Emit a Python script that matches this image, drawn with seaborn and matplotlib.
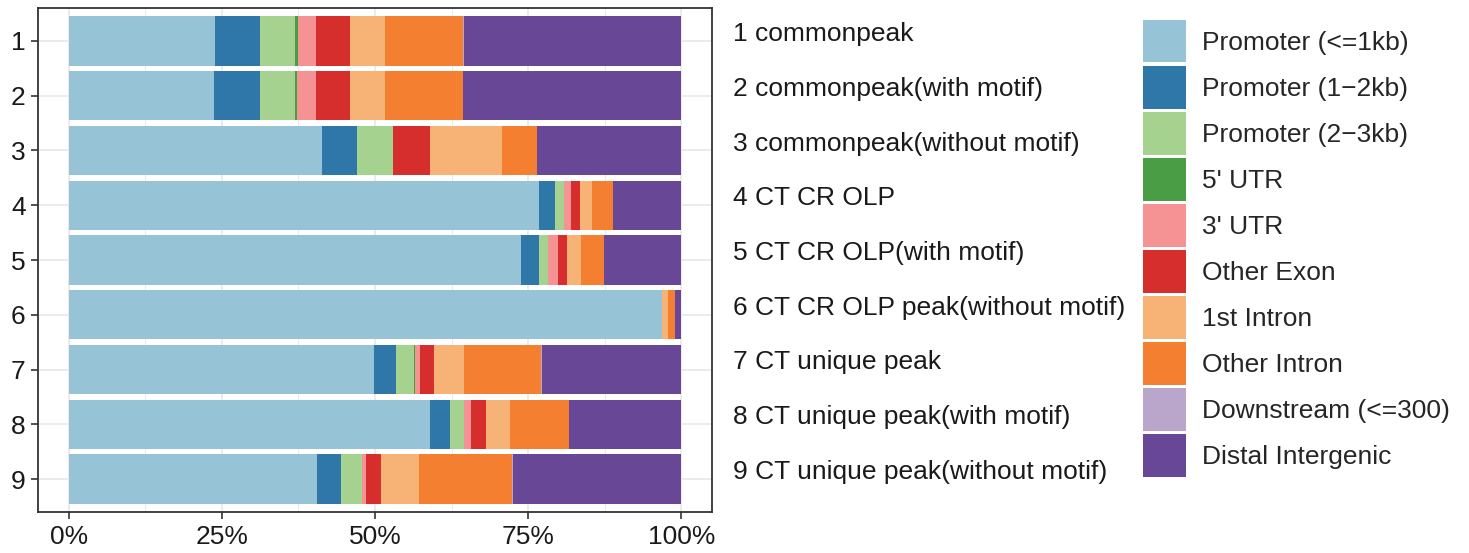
import numpy as np
import pandas as pd
import matplotlib.pyplot as plt
import seaborn as sns
from matplotlib.patches import Patch
from matplotlib.ticker import FixedLocator, PercentFormatter

# Sample ids and their descriptions
samples = ["1", "2", "3", "4", "5", "6", "7", "8", "9"]
sample_names = [
    "1 commonpeak",
    "2 commonpeak(with motif)",
    "3 commonpeak(without motif)",
    "4 CT CR OLP",
    "5 CT CR OLP(with motif)",
    "6 CT CR OLP peak(without motif)",
    "7 CT unique peak",
    "8 CT unique peak(with motif)",
    "9 CT unique peak(without motif)",
]

features = ["Promoter (<=1kb)", "Promoter (1\u22122kb)", "Promoter (2\u22123kb)", "5' UTR", "3' UTR",
            "Other Exon", "1st Intron", "Other Intron", "Downstream (<=300)", "Distal Intergenic"]
colors = ["#97C3D7", "#2E77A8", "#A5D38F", "#4A9C45", "#F59294",
          "#D62D2D", "#F7B276", "#F47F31", "#BAA5CB", "#684796"]

# percentage of peaks per feature, one list per feature (samples 1..9)
promoter_1kb = [23.9, 23.8, 41.3, 76.8, 73.8, 96.9, 49.9, 58.9, 40.6]
promoter_2kb = [7.4, 7.5, 5.8, 2.6, 3.0, 0.0, 3.5, 3.3, 3.8]
promoter_3kb = [5.7, 5.7, 5.9, 1.4, 1.5, 0.0, 2.9, 2.4, 3.4]
utr5 = [0.5, 0.3, 0.0, 0.0, 0.0, 0.0, 0.2, 0.0, 0.1]
utr3 = [2.9, 3.1, 0.0, 1.2, 1.5, 0.0, 0.8, 1.0, 0.7]
other_exon = [5.6, 5.6, 5.9, 1.4, 1.6, 0.0, 2.3, 2.5, 2.3]
first_intron = [5.7, 5.7, 11.8, 2.0, 2.2, 1.0, 5.0, 3.9, 6.2]
other_intron = [12.7, 12.7, 5.8, 3.4, 3.7, 1.1, 12.5, 9.6, 15.3]
downstream = [0.2, 0.0, 0.0, 0.0, 0.0, 0.0, 0.1, 0.0, 0.1]
distal = [35.4, 35.6, 23.5, 11.2, 12.7, 1.0, 22.8, 18.4, 27.5]

values = [promoter_1kb, promoter_2kb, promoter_3kb, utr5, utr3,
          other_exon, first_intron, other_intron, downstream, distal]

df = pd.DataFrame(np.array(values).T, columns=features)
df["sample"] = samples
# normalise each row to 100%
df[features] = df[features].div(df[features].sum(axis=1), axis=0) * 100
cum = df[features].cumsum(axis=1)
cum["sample"] = samples

sns.set_theme(style="whitegrid")
plt.rcParams["font.family"] = ["Liberation Sans", "DejaVu Sans"]

fig = plt.figure(figsize=(14.69, 5.53), dpi=100)
ax = fig.add_axes([38 / 1469, 1 - 512 / 553, (712 - 38) / 1469, (512 - 8) / 553])

# stacked bars: draw cumulative totals from the last feature to the first
for feat, col in reversed(list(zip(features, colors))):
    sns.barplot(data=cum, x=feat, y="sample", order=samples, orient="h",
                color=col, saturation=1, width=0.9, linewidth=0, ax=ax)

ax.set_xlim(-5, 105)
ax.set_ylim(8.6, -0.6)
ax.xaxis.set_major_locator(FixedLocator([0, 25, 50, 75, 100]))
ax.xaxis.set_minor_locator(FixedLocator([12.5, 37.5, 62.5, 87.5]))
ax.xaxis.set_major_formatter(PercentFormatter(decimals=0))
ax.set_xlabel("")
ax.set_ylabel("")
ax.set_axisbelow(True)
ax.grid(True, which="major", color="#EBEBEB", linewidth=1.4)
ax.grid(True, which="minor", axis="x", color="#EBEBEB", linewidth=0.8)
for s in ax.spines.values():
    s.set_color("#333333")
    s.set_linewidth(1.3)
ax.tick_params(axis="both", labelsize=19, colors="#333333", labelcolor="#1a1a1a",
               length=5, width=1.2, direction="out", left=True, bottom=True, pad=4)

# sample descriptions
for i, name in enumerate(sample_names):
    fig.text(733 / 1469, 1 - (34 + i * 54.75) / 553, name, fontsize=19,
             va="center", ha="left", color="#1a1a1a")

handles = [Patch(facecolor=c, edgecolor="none", label=f) for f, c in zip(features, colors)]
fig.legend(handles=handles, loc="upper left", bbox_to_anchor=(1143 / 1469, 1 - 20 / 553),
           frameon=False, fontsize=19, handlelength=1.63, handleheight=2.1,
           labelspacing=0.135, handletextpad=0.62, borderpad=0, borderaxespad=0)

fig.savefig("out.png", dpi=100)
